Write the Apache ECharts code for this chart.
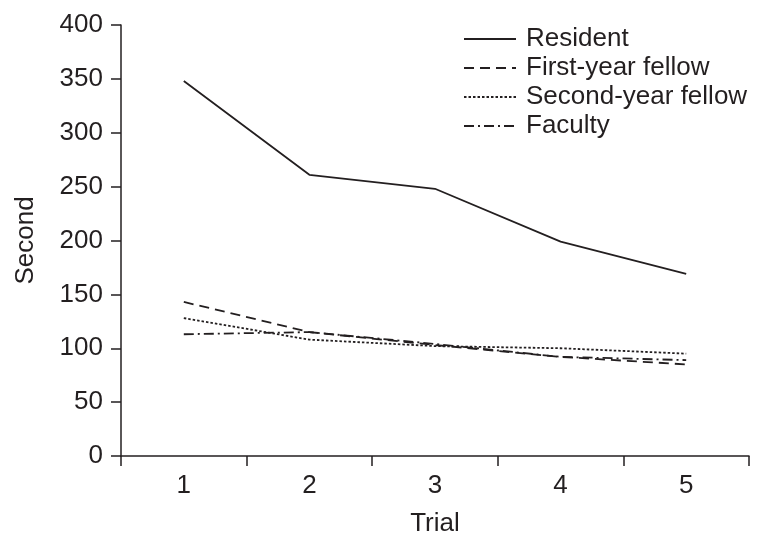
<!DOCTYPE html>
<html>
<head>
<meta charset="utf-8">
<script src="https://cdn.jsdelivr.net/npm/echarts@6/dist/echarts.min.js"></script>
<style>html,body{margin:0;padding:0;background:#fff}#c{width:764px;height:550px}</style>
</head>
<body>
<div id="c"></div>
<script>
var categories = ['1', '2', '3', '4', '5'];
var resident = [348, 261, 248, 199, 169];
var firstYear = [143, 115, 103, 92, 85];
var secondYear = [128, 108, 102, 100, 95];
var faculty = [113, 115, 104, 92, 89];
var seriesNames = ['Resident', 'First-year fellow', 'Second-year fellow', 'Faculty'];

var ink = '#231f20';
var font = 'Liberation Sans, Arial, sans-serif';
var fs = 26;
function mk(name, data, type) {
  return {
    name: name, type: 'line', data: data, symbol: 'none', showSymbol: false,
    lineStyle: { color: ink, width: 1.8, type: type },
    itemStyle: { color: ink },
    animation: false
  };
}
var chart = echarts.init(document.getElementById('c'), null, { renderer: 'canvas' });
chart.setOption({
  animation: false,
  grid: { left: 121, right: 15, top: 25, bottom: 94, containLabel: false },
  legend: {
    orient: 'vertical', left: 458, top: 21, itemWidth: 52, itemHeight: 14, itemGap: 3,
    itemStyle: { opacity: 0 },
    textStyle: { color: ink, fontSize: fs, fontFamily: font, padding: [0, 0, 0, 5] },
    data: seriesNames
  },
  xAxis: {
    type: 'category', data: categories, boundaryGap: true,
    name: 'Trial', nameLocation: 'middle', nameGap: 55,
    nameTextStyle: { color: ink, fontSize: fs, fontFamily: font },
    axisLine: { lineStyle: { color: ink, width: 1.5 } },
    axisTick: { show: true, length: 10, inside: false, lineStyle: { color: ink, width: 1.5 } },
    axisLabel: { color: ink, fontSize: fs, fontFamily: font, margin: 17 }
  },
  yAxis: {
    type: 'value', min: 0, max: 400, interval: 50,
    name: 'Second', nameLocation: 'middle', nameGap: 82,
    nameTextStyle: { color: ink, fontSize: fs, fontFamily: font },
    axisLine: { show: true, lineStyle: { color: ink, width: 1.5 } },
    axisTick: { show: true, length: 10, lineStyle: { color: ink, width: 1.5 } },
    axisLabel: { color: ink, fontSize: fs, fontFamily: font, margin: 18 },
    splitLine: { show: false }
  },
  series: [
    mk(seriesNames[0], resident, 'solid'),
    mk(seriesNames[1], firstYear, [10, 6]),
    mk(seriesNames[2], secondYear, [2.5, 2]),
    mk(seriesNames[3], faculty, [10, 4, 2, 4])
  ]
});
</script>
</body>
</html>
